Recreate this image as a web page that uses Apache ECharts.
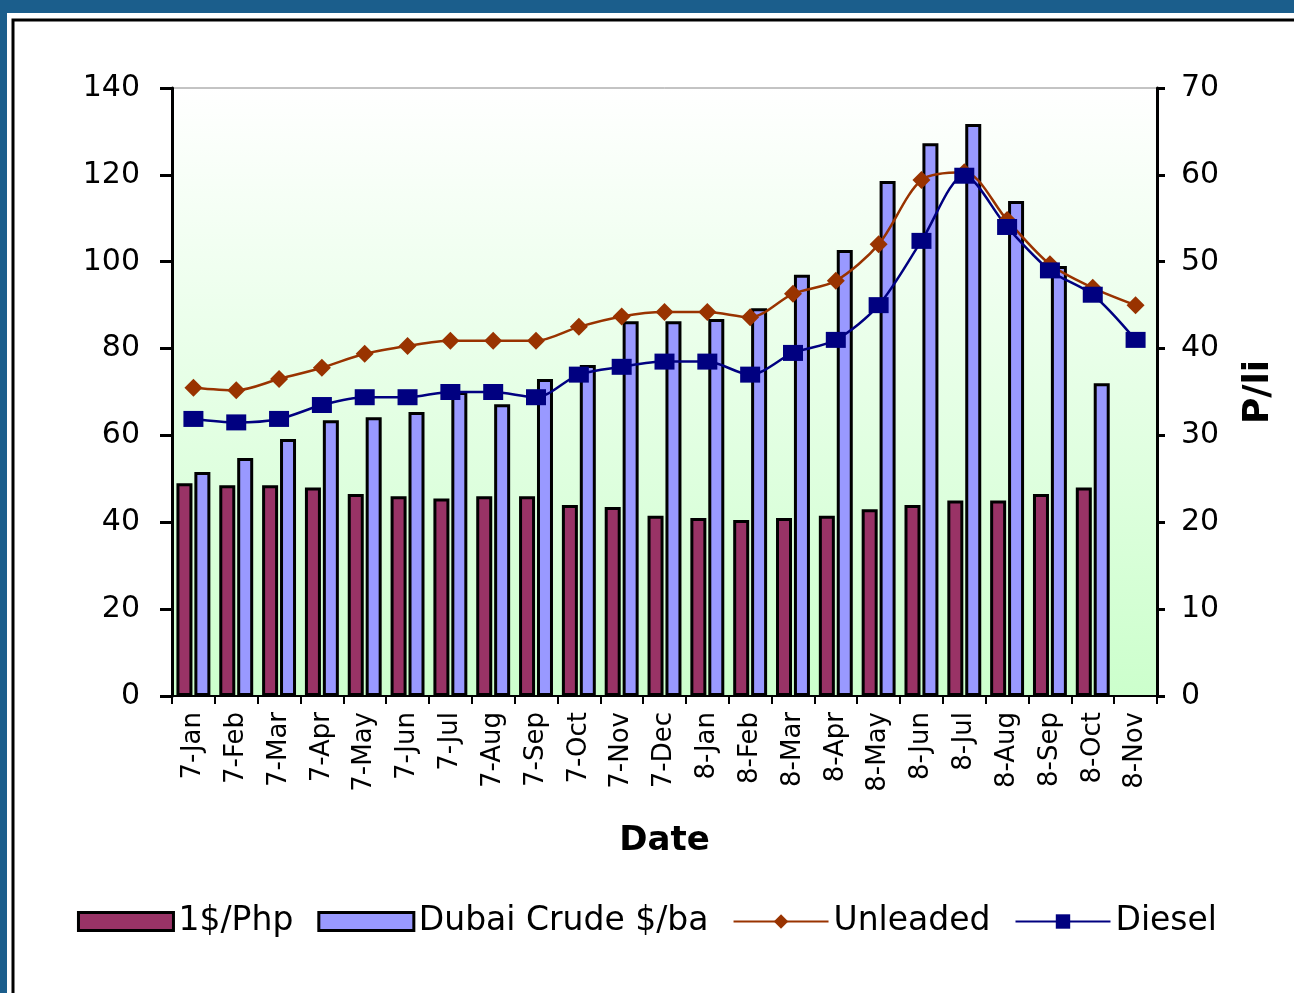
<!DOCTYPE html>
<html><head><meta charset="utf-8">
<script src="https://cdn.jsdelivr.net/npm/echarts@6/dist/echarts.min.js"></script>
<style>html,body{margin:0;padding:0;background:#fff;}#c{width:1294px;height:993px;}</style>
</head><body><div id="c"></div>
<script>
const categories = ['7-Jan','7-Feb','7-Mar','7-Apr','7-May','7-Jun','7-Jul','7-Aug','7-Sep','7-Oct','7-Nov','7-Dec','8-Jan','8-Feb','8-Mar','8-Apr','8-May','8-Jun','8-Jul','8-Aug','8-Sep','8-Oct','8-Nov'];
const php = [49,48.5,48.5,48,46.5,46,45.5,46,46,44,43.5,41.5,41,40.5,41,41.5,43,44,45,45,46.5,48,null];
const dubai = [51.6,54.8,59.2,63.5,64.2,65.4,70,67.2,73,76.2,86.3,86.3,86.8,89.3,97,102.7,118.6,127.3,131.7,114,99,72,null];
const unleaded = [35.5,35.2,36.5,37.8,39.4,40.3,40.9,40.9,40.9,42.5,43.7,44.2,44.2,43.6,46.3,47.8,52,59.4,60.3,54.8,49.7,47,45];
const diesel = [31.9,31.5,31.9,33.5,34.4,34.4,35,35,34.4,37,37.9,38.5,38.5,37,39.5,41,45,52.4,59.9,54,49,46.2,41];
const leftTicks = [0,140,20];
const rightTicks = [0,70,10];

const font = '"DejaVu Sans", Verdana, sans-serif';
const chart = echarts.init(document.getElementById('c'));
chart.setOption({
  animation:false,
  backgroundColor:'#fff',
  graphic:[
    {type:'rect', shape:{x:0,y:0,width:1294,height:13}, style:{fill:'#1b5e8c'}, z:-10},
    {type:'rect', shape:{x:0,y:0,width:7,height:993}, style:{fill:'#1b5e8c'}, z:-10},
    {type:'rect', shape:{x:13,y:20,width:1300,height:1000}, style:{fill:'#fff',stroke:'#000',lineWidth:3}, z:-9}
  ],
  grid:{left:172,right:137,top:88,bottom:297,show:true,borderColor:'#888',borderWidth:1,
    backgroundColor:new echarts.graphic.LinearGradient(0,0,0,1,[{offset:0,color:'#ffffff'},{offset:1,color:'#ccffcc'}])},
  legend:{bottom:50,left:'center',itemGap:24,itemWidth:95,itemHeight:18,
    textStyle:{fontFamily:font,fontSize:33,color:'#000'},
    data:[
      {name:'1$/Php',icon:'rect',itemStyle:{borderColor:'#000',borderWidth:3}},
      {name:'Dubai Crude $/ba',icon:'rect',itemStyle:{borderColor:'#000',borderWidth:3}},
      {name:'Unleaded'},{name:'Diesel'}]},
  xAxis:{type:'category',data:categories,boundaryGap:true,
    name:'Date',nameLocation:'middle',nameGap:128,
    nameTextStyle:{fontFamily:font,fontSize:34,fontWeight:'bold',color:'#000'},
    axisLine:{lineStyle:{color:'#000',width:2}},
    axisTick:{show:true,length:8,lineStyle:{color:'#000',width:2},alignWithLabel:false},
    axisLabel:{rotate:90,fontFamily:font,fontSize:26,color:'#000',margin:16,interval:0}},
  yAxis:[
    {type:'value',min:leftTicks[0],max:leftTicks[1],interval:leftTicks[2],position:'left',
     splitLine:{show:false},
     axisLine:{show:true,lineStyle:{color:'#000',width:3}},
     axisTick:{show:true,length:12,lineStyle:{color:'#000',width:3}},
     axisLabel:{fontFamily:font,fontSize:30,color:'#000',margin:32}},
    {type:'value',min:rightTicks[0],max:rightTicks[1],interval:rightTicks[2],position:'right',
     name:'P/li',nameLocation:'middle',nameGap:84,nameRotate:90,
     nameTextStyle:{fontFamily:font,fontSize:36,fontWeight:'bold',color:'#000'},
     splitLine:{show:false},
     axisLine:{show:true,lineStyle:{color:'#000',width:3}},
     axisTick:{show:true,length:8,lineStyle:{color:'#000',width:3}},
     axisLabel:{fontFamily:font,fontSize:30,color:'#000',margin:24}}
  ],
  series:[
    {name:'1$/Php',type:'bar',data:php,barWidth:16,barGap:'12%',
     itemStyle:{color:'#993366',borderColor:'#000',borderWidth:3}},
    {name:'Dubai Crude $/ba',type:'bar',data:dubai,barWidth:16,
     itemStyle:{color:'#9999ff',borderColor:'#000',borderWidth:3}},
    {name:'Unleaded',type:'line',yAxisIndex:1,data:unleaded,smooth:0.3,
     symbol:'diamond',symbolSize:18,lineStyle:{color:'#993300',width:2.5},
     itemStyle:{color:'#993300'}},
    {name:'Diesel',type:'line',yAxisIndex:1,data:diesel,smooth:0.3,
     symbol:'rect',symbolSize:[20,16],lineStyle:{color:'#000080',width:2.5},
     itemStyle:{color:'#000080'}}
  ]
});
</script></body></html>
